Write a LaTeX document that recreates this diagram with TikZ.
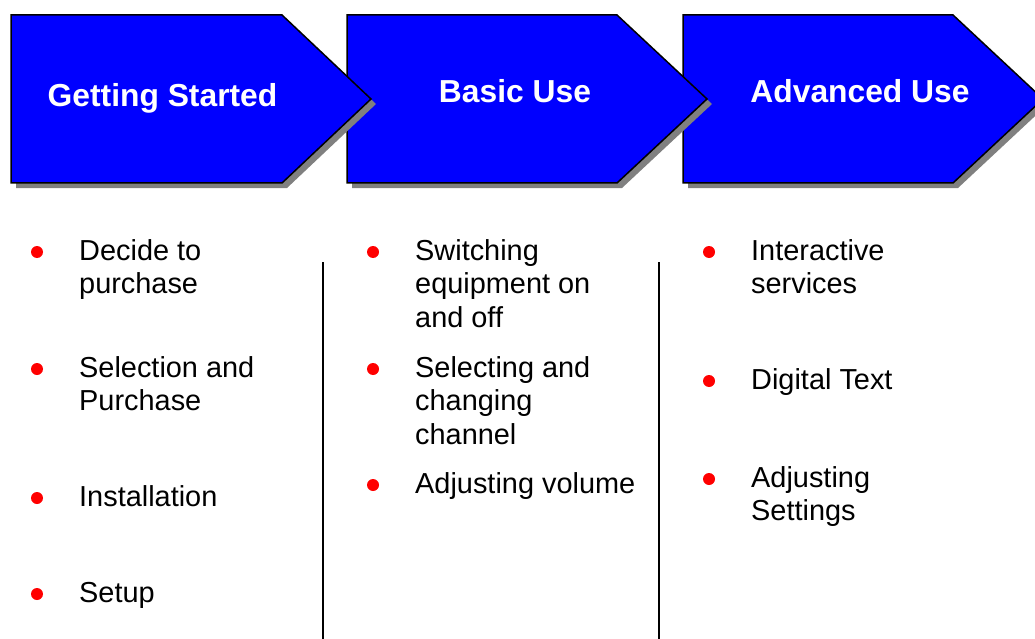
\documentclass[tikz,border=0pt]{standalone}
\usepackage{fontspec}
\setmainfont{Liberation Sans}
\usetikzlibrary{positioning, calc}

\tikzset{
  stage/.style={fill=blue, draw=black, line width=1.5pt, line join=miter},
  stageshadow/.style={fill=black!50},
  title/.style={text=white, font=\fontsize{31.8}{36}\selectfont\bfseries, anchor=base, inner sep=0pt},
  item/.style={font=\fontsize{28.9}{33.5}\selectfont, align=left, anchor=base west, inner sep=0pt},
  dot/.style={circle, fill=red, inner sep=0pt, minimum size=12pt},
}

\begin{document}
\begin{tikzpicture}[x=1pt, y=-1pt]
\useasboundingbox (0,0) rectangle (1035,639);
% stages, drawn back to front
\fill[stageshadow] (688,20) -- (958,20) -- (1048,104) -- (958,188) -- (688,188) -- cycle;
\draw[stage] (683,15) -- (953,15) -- (1043,99) -- (953,183) -- (683,183) -- cycle;
\fill[stageshadow] (352,20) -- (622,20) -- (712,104) -- (622,188) -- (352,188) -- cycle;
\draw[stage] (347,15) -- (617,15) -- (707,99) -- (617,183) -- (347,183) -- cycle;
\fill[stageshadow] (16,20) -- (287,20) -- (376,104) -- (287,188) -- (16,188) -- cycle;
\draw[stage] (11,15) -- (282,15) -- (371,99) -- (282,183) -- (11,183) -- cycle;
\node[title] (Start) at (162.5,107) {Getting Started};
\node[title] (Basic) at (515,103) {Basic Use};
\node[title] (Adv) at (860,103) {Advanced Use};
% first column (placed at the baseline of the last line)
\node[item] (A1) at (79,293.5) {Decide to\\purchase};
\node[item] (A2) at (79,410.5) {Selection and\\Purchase};
\node[item] (A3) at (79,506) {Installation};
\node[item] (A4) at (79,602) {Setup};
% second column
\node[item] (B1) at (415,327) {Switching\\equipment on\\and off};
\node[item] (B2) at (415,444) {Selecting and\\changing\\channel};
\node[item] (B3) at (415,493) {Adjusting volume};
% third column
\node[item] (C1) at (751,293.5) {Interactive\\services};
\node[item] (C2) at (751,389) {Digital Text};
\node[item] (C3) at (751,520.5) {Adjusting\\Settings};
% bullets, next to the first line
\node[dot] (dA1) at ($(A1.base west)+(-42,-41.5)$) {};
\node[dot] (dA2) at ($(A2.base west)+(-42,-41.5)$) {};
\node[dot] (dA3) at ($(A3.base west)+(-42,-8)$) {};
\node[dot] (dA4) at ($(A4.base west)+(-42,-8)$) {};
\node[dot] (dB1) at ($(B1.base west)+(-42,-75)$) {};
\node[dot] (dB2) at ($(B2.base west)+(-42,-75)$) {};
\node[dot] (dB3) at ($(B3.base west)+(-42,-8)$) {};
\node[dot] (dC1) at ($(C1.base west)+(-42,-41.5)$) {};
\node[dot] (dC2) at ($(C2.base west)+(-42,-8)$) {};
\node[dot] (dC3) at ($(C3.base west)+(-42,-41.5)$) {};
% separators
\coordinate (S1top) at (323,262);
\coordinate (S1bot) at (323,640);
\coordinate (S2top) at (659,262);
\coordinate (S2bot) at (659,640);
\draw[line width=2pt] (S1top) -- (S1bot);
\draw[line width=2pt] (S2top) -- (S2bot);
\end{tikzpicture}
\end{document}
